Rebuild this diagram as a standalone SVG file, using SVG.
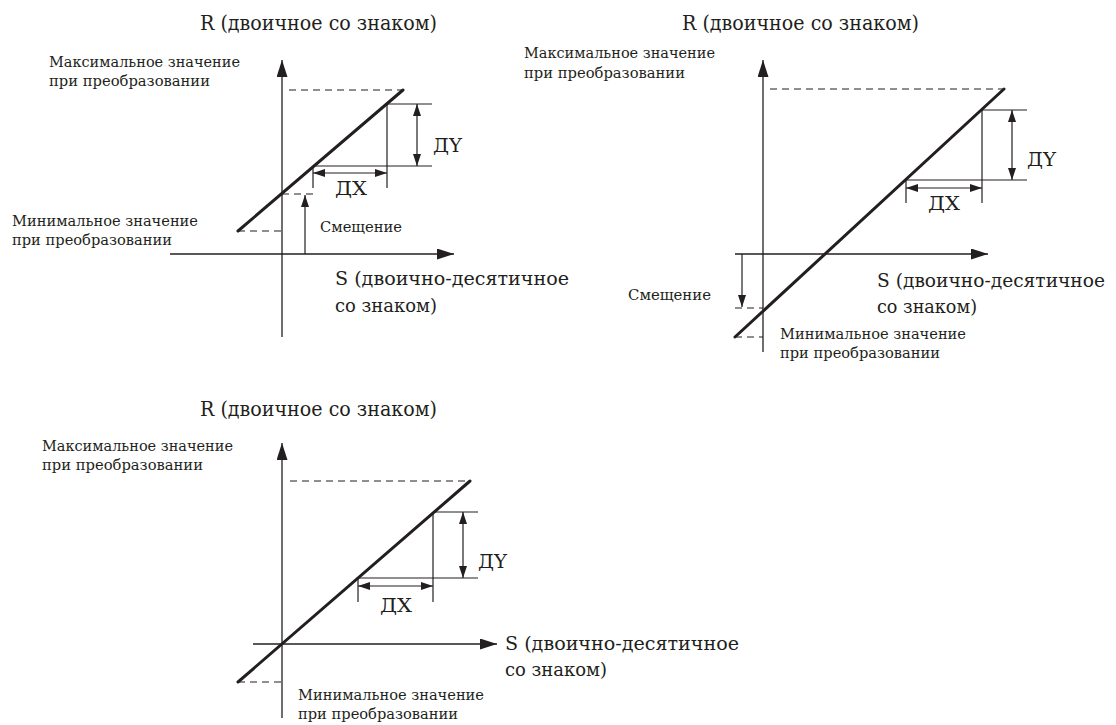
<svg xmlns="http://www.w3.org/2000/svg" width="1116" height="725" viewBox="0 0 1116 725">
<defs>
<style>
.ax{stroke:#231f20;stroke-width:1.3;fill:none}
.thin{stroke:#231f20;stroke-width:1.2;fill:none}
.bold{stroke:#231f20;stroke-width:3;fill:none;stroke-linecap:round}
.dash{stroke:#231f20;stroke-width:1.2;fill:none;stroke-dasharray:7 5}
.t{font-family:"DejaVu Serif","Liberation Serif",serif;fill:#231f20}
.big{font-size:20px}
.sl{font-size:18px}
.mid{font-size:19px}
.sm{font-size:15px}
.off{font-size:14px}
</style>
<marker id="ah" markerUnits="userSpaceOnUse" markerWidth="18" markerHeight="11" refX="17" refY="5.5" orient="auto-start-reverse"><path d="M0,0 L17,5.5 L0,11 Z" fill="#231f20"/></marker>
<marker id="sh" markerUnits="userSpaceOnUse" markerWidth="12" markerHeight="8" refX="12" refY="4" orient="auto-start-reverse"><path d="M0,0 L12,4 L0,8 Z" fill="#231f20"/></marker>
</defs>
<rect width="1116" height="725" fill="#fff"/>

<g id="graph1">
<g id="g1-connectors">
<line class="ax" x1="282" y1="337" x2="282" y2="60" marker-end="url(#ah)"/>
<line class="ax" x1="170" y1="254" x2="454" y2="254" marker-end="url(#ah)"/>
<line class="dash" x1="289" y1="90" x2="403" y2="90"/>
<line class="dash" x1="282" y1="194" x2="313" y2="194"/>
<line class="dash" x1="238" y1="231" x2="282" y2="231"/>
<line class="bold" x1="238" y1="231" x2="403" y2="90"/>
<line class="thin" x1="387" y1="104" x2="432" y2="104"/>
<line class="thin" x1="313" y1="166" x2="432" y2="166"/>
<line class="thin" x1="313" y1="166" x2="313" y2="188"/>
<line class="thin" x1="387" y1="104" x2="387" y2="188"/>
<line class="thin" x1="313" y1="173" x2="387" y2="173" marker-start="url(#sh)" marker-end="url(#sh)"/>
<line class="thin" x1="417" y1="104" x2="417" y2="166" marker-start="url(#sh)" marker-end="url(#sh)"/>
<line class="thin" x1="305" y1="254" x2="305" y2="195" marker-end="url(#sh)"/>
</g>
<text class="t big" x="200" y="30" textLength="237" lengthAdjust="spacingAndGlyphs">R (двоичное со знаком)</text>
<text class="t sm" x="49" y="67" textLength="191" lengthAdjust="spacingAndGlyphs">Максимальное значение</text>
<text class="t sm" x="49" y="86" textLength="161" lengthAdjust="spacingAndGlyphs">при преобразовании</text>
<text class="t sm" x="12" y="226" textLength="186" lengthAdjust="spacingAndGlyphs">Минимальное значение</text>
<text class="t sm" x="12" y="245" textLength="160" lengthAdjust="spacingAndGlyphs">при преобразовании</text>
<text class="t off" x="320" y="232" textLength="82" lengthAdjust="spacingAndGlyphs">Смещение</text>
<text class="t sl" x="335" y="285" textLength="234" lengthAdjust="spacingAndGlyphs">S (двоично-десятичное</text>
<text class="t sl" x="335" y="312" textLength="102" lengthAdjust="spacingAndGlyphs">со знаком)</text>
<text class="t mid" x="335" y="195" textLength="32" lengthAdjust="spacingAndGlyphs">ДX</text>
<text class="t mid" x="433" y="152" textLength="29" lengthAdjust="spacingAndGlyphs">ДY</text>
</g>

<g id="graph2">
<g id="g2-connectors">
<line class="ax" x1="763" y1="352" x2="763" y2="60" marker-end="url(#ah)"/>
<line class="ax" x1="735" y1="254" x2="988" y2="254" marker-end="url(#ah)"/>
<line class="dash" x1="770" y1="89" x2="1004" y2="89"/>
<line class="dash" x1="735" y1="308" x2="763" y2="308"/>
<line class="dash" x1="735" y1="337" x2="763" y2="337"/>
<line class="bold" x1="735" y1="337" x2="1004" y2="89"/>
<line class="thin" x1="982" y1="110" x2="1027" y2="110"/>
<line class="thin" x1="906" y1="180" x2="1027" y2="180"/>
<line class="thin" x1="906" y1="180" x2="906" y2="203"/>
<line class="thin" x1="982" y1="110" x2="982" y2="203"/>
<line class="thin" x1="906" y1="188" x2="982" y2="188" marker-start="url(#sh)" marker-end="url(#sh)"/>
<line class="thin" x1="1012" y1="110" x2="1012" y2="180" marker-start="url(#sh)" marker-end="url(#sh)"/>
<line class="thin" x1="742" y1="254" x2="742" y2="307" marker-end="url(#sh)"/>
</g>
<text class="t big" x="682" y="30" textLength="237" lengthAdjust="spacingAndGlyphs">R (двоичное со знаком)</text>
<text class="t sm" x="524" y="58" textLength="191" lengthAdjust="spacingAndGlyphs">Максимальное значение</text>
<text class="t sm" x="524" y="78" textLength="161" lengthAdjust="spacingAndGlyphs">при преобразовании</text>
<text class="t off" x="628" y="300" textLength="83" lengthAdjust="spacingAndGlyphs">Смещение</text>
<text class="t sl" x="877" y="287" textLength="228" lengthAdjust="spacingAndGlyphs">S (двоично-десятичное</text>
<text class="t sl" x="877" y="313" textLength="100" lengthAdjust="spacingAndGlyphs">со знаком)</text>
<text class="t sm" x="780" y="339" textLength="186" lengthAdjust="spacingAndGlyphs">Минимальное значение</text>
<text class="t sm" x="780" y="358" textLength="160" lengthAdjust="spacingAndGlyphs">при преобразовании</text>
<text class="t mid" x="928" y="210" textLength="32" lengthAdjust="spacingAndGlyphs">ДX</text>
<text class="t mid" x="1027" y="166" textLength="29" lengthAdjust="spacingAndGlyphs">ДY</text>
</g>

<g id="graph3">
<g id="g3-connectors">
<line class="ax" x1="282" y1="718" x2="282" y2="443" marker-end="url(#ah)"/>
<line class="ax" x1="253" y1="644" x2="497" y2="644" marker-end="url(#ah)"/>
<line class="dash" x1="290" y1="481" x2="470" y2="481"/>
<line class="dash" x1="238" y1="682" x2="282" y2="682"/>
<line class="bold" x1="238" y1="682" x2="470" y2="481"/>
<line class="thin" x1="433" y1="512" x2="478" y2="512"/>
<line class="thin" x1="358" y1="578" x2="478" y2="578"/>
<line class="thin" x1="358" y1="578" x2="358" y2="602"/>
<line class="thin" x1="433" y1="512" x2="433" y2="602"/>
<line class="thin" x1="358" y1="586" x2="433" y2="586" marker-start="url(#sh)" marker-end="url(#sh)"/>
<line class="thin" x1="463" y1="512" x2="463" y2="578" marker-start="url(#sh)" marker-end="url(#sh)"/>
</g>
<text class="t big" x="200" y="416" textLength="237" lengthAdjust="spacingAndGlyphs">R (двоичное со знаком)</text>
<text class="t sm" x="42" y="451" textLength="191" lengthAdjust="spacingAndGlyphs">Максимальное значение</text>
<text class="t sm" x="42" y="470" textLength="161" lengthAdjust="spacingAndGlyphs">при преобразовании</text>
<text class="t sl" x="505" y="650" textLength="234" lengthAdjust="spacingAndGlyphs">S (двоично-десятичное</text>
<text class="t sl" x="505" y="676" textLength="102" lengthAdjust="spacingAndGlyphs">со знаком)</text>
<text class="t sm" x="298" y="700" textLength="186" lengthAdjust="spacingAndGlyphs">Минимальное значение</text>
<text class="t sm" x="298" y="719" textLength="160" lengthAdjust="spacingAndGlyphs">при преобразовании</text>
<text class="t mid" x="380" y="612" textLength="32" lengthAdjust="spacingAndGlyphs">ДX</text>
<text class="t mid" x="478" y="568" textLength="29" lengthAdjust="spacingAndGlyphs">ДY</text>
</g>
</svg>
